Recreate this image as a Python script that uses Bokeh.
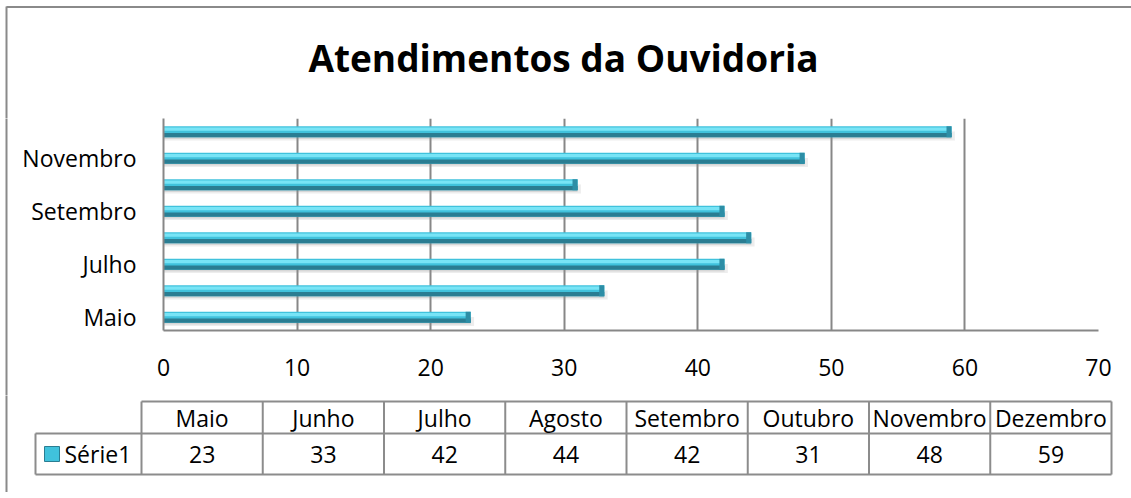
from bokeh.plotting import figure
from bokeh.layouts import column, row
from bokeh.models import Range1d, FixedTicker, ColumnDataSource
from bokeh.transform import dodge
from bokeh.embed import file_html
from bokeh.resources import INLINE
from bokeh.core.properties import value

# ---- data ----
months = ["Maio", "Junho", "Julho", "Agosto", "Setembro", "Outubro", "Novembro", "Dezembro"]
counts = [23, 33, 42, 44, 42, 31, 48, 59]
series_name = "Série1"
title_text = "Atendimentos da Ouvidoria"
x_ticks = [0, 10, 20, 30, 40, 50, 60, 70]
y_tick_idx = [0, 2, 4, 6]

# ---- style / layout constants ----
FONT = "Open Sans"
GRID = "#878787"
EDGE = "#8a8a8a"
W, H = 1131, 492
LEFT_STRIP = 8
EDGE_X = 6
frame_l, frame_r, frame_t, frame_b = 163, 1098, 118, 330
axis_band = 65
figT_h = frame_t
figA_h = frame_b - frame_t + axis_band
figB_h = H - figT_h - figA_h


def blank_fig(w, h, xr, yr):
    f = figure(width=w, height=h, x_range=xr, y_range=yr,
               output_backend="svg", toolbar_location=None,
               x_axis_type=None, y_axis_type=None, min_border=0)
    f.outline_line_color = None
    f.xgrid.visible = False
    f.ygrid.visible = False
    f.background_fill_color = "white"
    f.border_fill_color = "white"
    return f


# ---- title band (with outer chart border: top + left) ----
pT = blank_fig(W, figT_h, Range1d(0, W), Range1d(figT_h, 0))
pT.segment(x0=[EDGE_X, EDGE_X], y0=[6.5, 6], x1=[W + 5, EDGE_X], y1=[6.5, figT_h + 1],
           line_color=EDGE, line_width=2)
pT.text(x=[563], y=[57], text=[title_text], text_font=value(FONT),
        text_font_style="bold", text_font_size="37px", text_align="center",
        text_baseline="middle", text_color="black")

# ---- left strip beside the plot (outer border) ----
pL = blank_fig(LEFT_STRIP, figA_h, Range1d(0, LEFT_STRIP), Range1d(figA_h, 0))
pL.segment(x0=[EDGE_X], y0=[-1], x1=[EDGE_X], y1=[figA_h + 1], line_color=EDGE, line_width=2)

# ---- bar chart ----
n = len(months)
src = ColumnDataSource(dict(
    y=list(range(n)), v=counts,
    cap_left=[c - 0.38 for c in counts],
    shadow_r=[c + 0.25 for c in counts],
))

pA = figure(width=W - LEFT_STRIP, height=figA_h,
            x_range=Range1d(0, 70), y_range=Range1d(-0.5, n - 0.5),
            output_backend="svg", toolbar_location=None,
            min_border_left=frame_l - LEFT_STRIP, min_border_right=W - frame_r,
            min_border_top=0, min_border_bottom=axis_band)
pA.outline_line_color = None
pA.background_fill_color = "white"
pA.border_fill_color = "white"

pA.xgrid.ticker = FixedTicker(ticks=x_ticks)
pA.xgrid.grid_line_color = GRID
pA.xgrid.grid_line_width = 2
pA.ygrid.visible = False

pA.xaxis.ticker = FixedTicker(ticks=x_ticks)
pA.yaxis.ticker = FixedTicker(ticks=y_tick_idx)
pA.yaxis.major_label_overrides = {i: months[i] for i in y_tick_idx}
for ax in (pA.xaxis[0], pA.yaxis[0]):
    ax.axis_line_color = GRID
    ax.axis_line_width = 2
    ax.major_tick_line_color = None
    ax.minor_tick_line_color = None
    ax.major_label_text_font = FONT
    ax.major_label_text_font_size = "23px"
    ax.major_label_text_color = "black"
pA.xaxis.major_label_standoff = 22
pA.yaxis.major_label_standoff = 21

pA.hbar(y=dodge("y", -0.16, range=pA.y_range), height=0.34, left=0, right="shadow_r", source=src,
        fill_color="#9a9a9a", fill_alpha=0.18, line_color=None)
pA.hbar(y=dodge("y", -0.12, range=pA.y_range), height=0.3, left=0, right="v", source=src,
        fill_color="#8a8a8a", fill_alpha=0.22, line_color=None)
pA.hbar(y="y", height=0.42, left=0, right="v", source=src,
        fill_color="#40c2dc", line_color=None)
pA.hbar(y=dodge("y", 0.1, range=pA.y_range), height=0.12, left=0, right="v", source=src,
        fill_color="#78e4f6", line_color=None)
pA.hbar(y=dodge("y", -0.13, range=pA.y_range), height=0.16, left=0, right="v", source=src,
        fill_color="#2a7d92", line_color=None)
pA.hbar(y="y", height=0.42, left="cap_left", right="v", source=src,
        fill_color="#2d8ea6", line_color=None)

# ---- data table (with outer border: left) ----
cw = 121.25
col0 = 141
pB = blank_fig(W, figB_h, Range1d(-col0 / cw, (W - col0) / cw), Range1d(figB_h, 0))

y0B = figT_h + figA_h
top_y, mid_y, bot_y = 401 - y0B, 433 - y0B, 474 - y0B
left_cell = (35 - col0) / cw
seg = dict(x0=[], y0=[], x1=[], y1=[])


def add(x0, y0, x1, y1):
    seg["x0"].append(x0); seg["y0"].append(y0); seg["x1"].append(x1); seg["y1"].append(y1)


add(0, top_y, n, top_y)
add(left_cell, mid_y, n, mid_y)
add(left_cell, bot_y, n, bot_y)
for i in range(n + 1):
    add(i, top_y, i, bot_y)
add(left_cell, mid_y, left_cell, bot_y)
pB.segment(x0="x0", y0="y0", x1="x1", y1="y1", source=ColumnDataSource(seg),
           line_color="#8c8c8c", line_width=2)
pB.segment(x0=[(EDGE_X - col0) / cw], y0=[-1], x1=[(EDGE_X - col0) / cw], y1=[figB_h + 1],
           line_color=EDGE, line_width=2)

tsrc = ColumnDataSource(dict(x=[i + 0.5 for i in range(n)], m=months,
                             v=[str(c) for c in counts]))
pB.text(x="x", y=(top_y + mid_y) / 2, text="m", source=tsrc, text_font=value(FONT),
        text_font_size="23px", text_align="center", text_baseline="middle", text_color="black")
pB.text(x="x", y=(mid_y + bot_y) / 2, text="v", source=tsrc, text_font=value(FONT),
        text_font_size="23px", text_align="center", text_baseline="middle", text_color="black")

kx0, kx1 = (44 - col0) / cw, (59 - col0) / cw
ky = (mid_y + bot_y) / 2
pB.quad(left=[kx0], right=[kx1], top=[ky - 7.5], bottom=[ky + 7.5],
        fill_color="#40c2dc", line_color="#2a7d92", line_width=1)
pB.text(x=[(64 - col0) / cw], y=[ky], text=[series_name],
        text_font=value(FONT), text_font_size="23px", text_align="left",
        text_baseline="middle", text_color="black")

root = column(column(pT), row(column(pL), column(pA)), column(pB))

open("out.html", "w").write(file_html(root, INLINE))
